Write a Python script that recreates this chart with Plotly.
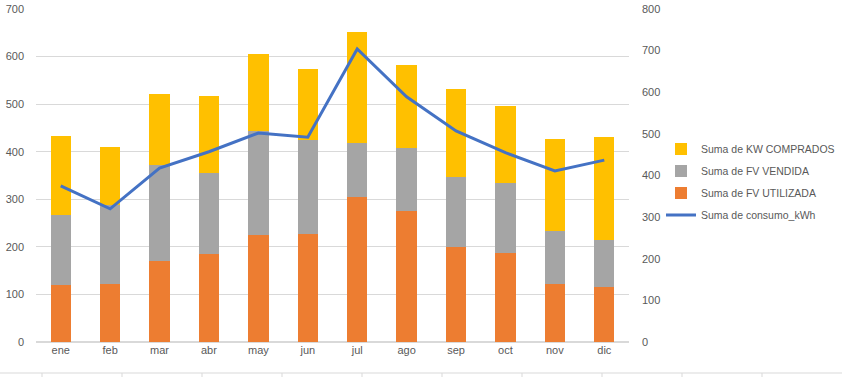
import plotly.graph_objects as go

meses = ["ene", "feb", "mar", "abr", "may", "jun", "jul", "ago", "sep", "oct", "nov", "dic"]
fv_utilizada = [120, 122, 170, 185, 225, 227, 305, 275, 200, 187, 122, 116]
fv_vendida = [147, 165, 202, 170, 218, 198, 113, 133, 147, 147, 111, 98]
kw_comprados = [166, 123, 149, 162, 162, 149, 234, 174, 185, 162, 194, 217]
consumo_kwh = [375, 320, 418, 457, 502, 492, 704, 589, 507, 455, 411, 437]

W, H = 842, 377
L, R, T, B = 36, 213, 9, 35
pw, ph = W - L - R, H - T - B

font = dict(family="Liberation Sans, Arial, sans-serif", size=11, color="#595959")

fig = go.Figure()
fig.add_trace(go.Bar(x=meses, y=fv_utilizada, name="Suma de FV UTILIZADA", legendgroup="c",
                     marker=dict(color="#ED7D31", line=dict(width=0)), legendrank=3))
fig.add_trace(go.Bar(x=meses, y=fv_vendida, name="Suma de FV VENDIDA", legendgroup="b",
                     marker=dict(color="#A5A5A5", line=dict(width=0)), legendrank=2))
fig.add_trace(go.Bar(x=meses, y=kw_comprados, name="Suma de KW COMPRADOS", legendgroup="a",
                     marker=dict(color="#FFC000", line=dict(width=0)), legendrank=1))
fig.add_trace(go.Scatter(x=meses, y=consumo_kwh, name="Suma de consumo_kWh", yaxis="y2",
                         legendgroup="d",
                         mode="lines", line=dict(color="#4472C4", width=3), legendrank=4))


def px2x(px):
    return (px - L) / pw


def px2y(py):
    return (H - B - py) / ph


# decorative bottom border line (spreadsheet cell border)
shapes = [dict(type="line", xref="paper", yref="paper", x0=px2x(0), x1=px2x(W),
               y0=px2y(373), y1=px2y(373), line=dict(color="#d9d9d9", width=1))]
for k in range(10):
    xp = px2x(42 + 80 * k)
    shapes.append(dict(type="line", xref="paper", yref="paper", x0=xp, x1=xp,
                       y0=px2y(373), y1=px2y(377), line=dict(color="#d9d9d9", width=1)))

fig.update_layout(
    width=W, height=H,
    margin=dict(l=L, r=R, t=T, b=B, autoexpand=False),
    paper_bgcolor="white", plot_bgcolor="white",
    barmode="stack", bargap=0.59,
    font=font,
    hovermode=False,
    showlegend=True,
    legend=dict(x=px2x(661), y=px2y(182), xanchor="left", yanchor="middle",
                traceorder="grouped",
                font=dict(family="Liberation Sans, Arial, sans-serif", size=10.5, color="#595959"),
                tracegroupgap=3, itemwidth=30, bgcolor="rgba(0,0,0,0)"),
    xaxis=dict(showgrid=False, showline=False, ticks="", tickfont=font,
               zeroline=False),
    yaxis=dict(range=[0, 700], dtick=100, showgrid=True, gridcolor="#d9d9d9", gridwidth=1,
               zeroline=True, zerolinecolor="#d9d9d9", showline=False, ticks="",
               tickfont=font, ticklabelstandoff=11),
    yaxis2=dict(range=[0, 800], dtick=100, overlaying="y", side="right", showgrid=False,
                zeroline=False, showline=False, ticks="", tickfont=font, ticklabelstandoff=12),
    shapes=shapes,
)

fig.write_html("out.html", config={"displayModeBar": False},
               post_script="document.body.style.margin='0';")
